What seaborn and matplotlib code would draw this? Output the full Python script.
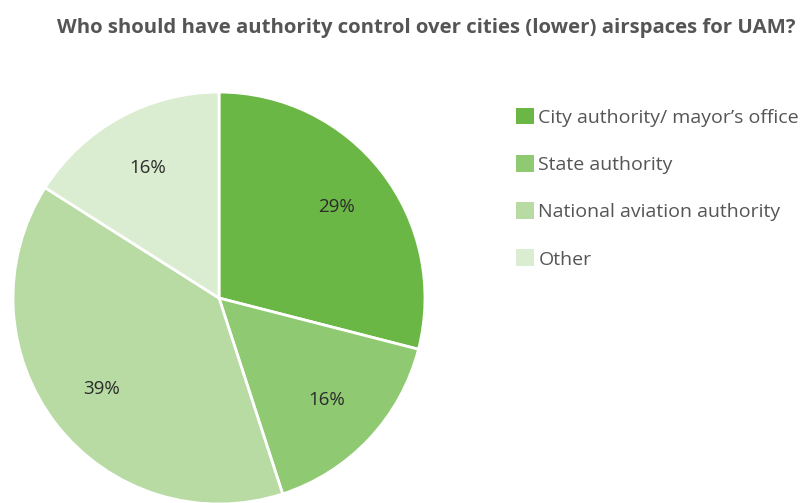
import matplotlib
matplotlib.use("Agg")
import matplotlib.pyplot as plt
import seaborn as sns
from matplotlib.patches import Patch

categories = ["City authority/ mayor\u2019s office", "State authority",
              "National aviation authority", "Other"]
values = [29, 16, 39, 16]
colors = ["#6ab745", "#8fca72", "#b7dba3", "#dbedd1"]
title = "Who should have authority control over cities (lower) airspaces for UAM?"

sns.set_theme(style="white")
plt.rcParams['font.family'] = ['Open Sans', 'DejaVu Sans']

fig = plt.figure(figsize=(8, 5.03), dpi=100)
ax = fig.add_axes([0.01625, -0.002, 0.515, 0.819])
wedges, texts, autotexts = ax.pie(
    values, colors=colors, startangle=90, counterclock=False,
    autopct=lambda p: f"{p:.0f}%", pctdistance=0.72, radius=1,
    wedgeprops=dict(edgecolor="white", linewidth=2),
    textprops=dict(color="#2b2b2b", fontsize=13.5))
ax.set_xlim(-1, 1)
ax.set_ylim(-1, 1)
ax.set_aspect("equal")
ax.axis("off")

fig.text(0.994, 0.945, title, ha="right", va="center", fontsize=14.7,
         fontweight="bold", color="#555555")

handles = [Patch(facecolor=c, edgecolor="none") for c in colors]
fig.legend(handles, categories, loc="upper left", bbox_to_anchor=(0.645, 0.786),
           frameon=False, fontsize=14, labelcolor="#555555",
           handlelength=0.95, handleheight=0.95, handletextpad=0.2,
           labelspacing=1.45, borderaxespad=0, borderpad=0)

fig.savefig("out.png", dpi=100, facecolor="white")
